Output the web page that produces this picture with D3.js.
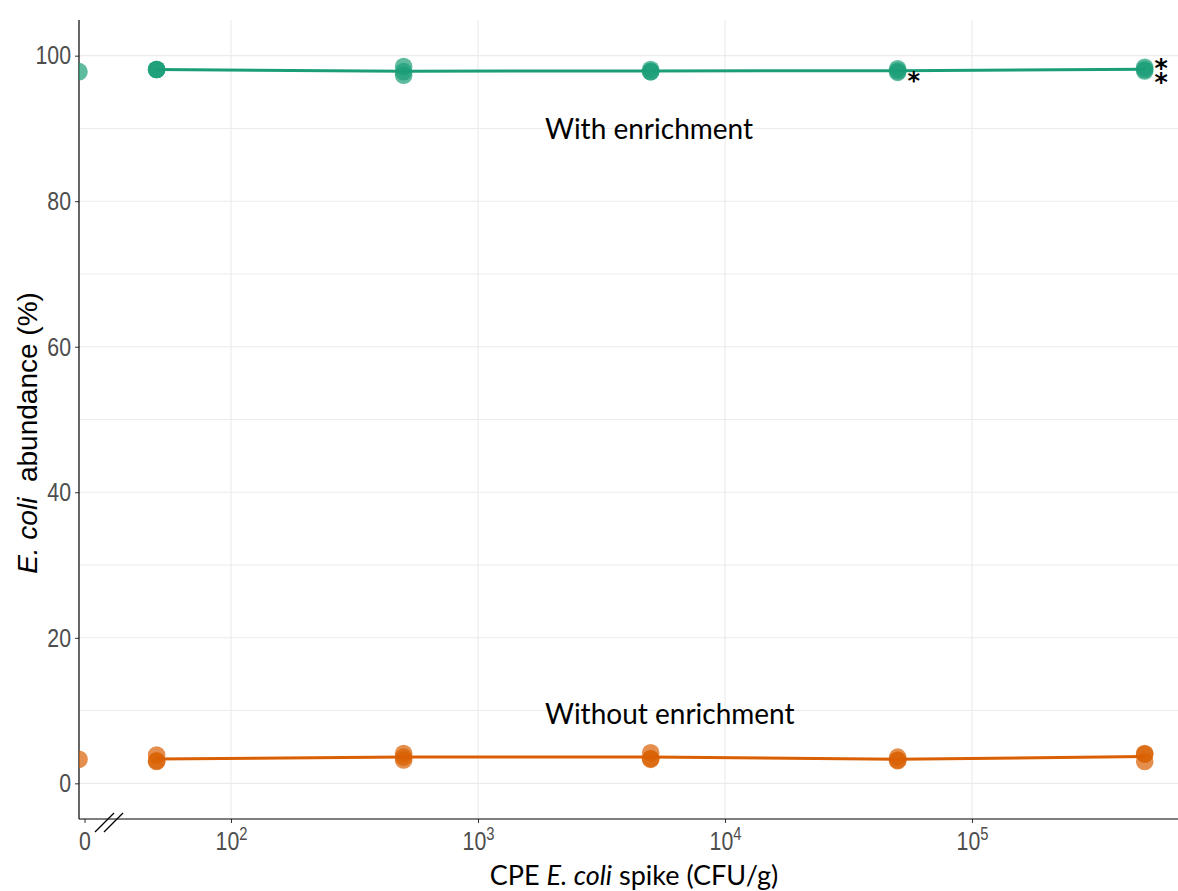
<!DOCTYPE html>
<html>
<head>
<meta charset="utf-8">
<script src="https://cdn.jsdelivr.net/npm/d3@7"></script>
<style>
body { margin: 0; background: #fff; }
svg { display: block; }
</style>
</head>
<body>
<svg id="chart"></svg>
<script>
// spike levels (CFU/g), 0 = unspiked control
var spikes = [0, 50, 500, 5000, 50000, 500000]

// replicate readings per spike level (abundance %)
var withEnrich = [
  [97.8],
  [98.1, 98.1, 98.1],
  [98.5, 97.8, 97.3],
  [98.1, 97.8, 97.8],
  [98.2, 97.7, 97.9],
  [98.4, 98.1, 97.9]
]
var withoutEnrich = [
  [3.3],
  [3.9, 3.1, 3.0],
  [4.1, 3.6, 3.2],
  [4.2, 3.4, 3.3],
  [3.6, 3.1, 3.2],
  [4.1, 4.0, 3.0]
]

var yTicks = [0, 20, 40, 60, 80, 100]
var yMinor = [10, 30, 50, 70, 90]
var xTicks = [100, 1000, 10000, 100000]
var xLabels = ["2", "3", "4", "5"]

var screen = {width: 1178, height: 891}
var margins = {top: 20, right: 0, bottom: 72, left: 79}
var width = screen.width - margins.left - margins.right
var height = screen.height - margins.top - margins.bottom

var green = "#1b9e77", orange = "#d95f02"
var tickFont = "'Liberation Sans', Arial, sans-serif"
var annoFont = "Lato, 'Open Sans', sans-serif"
var squeeze = 0.82   // tick labels in the original are a narrow face

var svg = d3.select("#chart")
  .attr("width", screen.width)
  .attr("height", screen.height)

var g = svg.append("g")
  .attr("transform", "translate(" + margins.left + "," + margins.top + ")")

var xScale = d3.scaleLog()
  .domain([24.25, 682000])
  .range([0, width])
var yScale = d3.scaleLinear()
  .domain([-4.9, 104.9])
  .range([height, 0])

// the unspiked control sits at the left edge
var xPos = function(v) { return v === 0 ? xScale(xScale.domain()[0]) : xScale(v) }

// grid
g.selectAll(".hgrid")
  .data(yTicks.concat(yMinor))
  .enter().append("line")
  .attr("x1", 0).attr("x2", width)
  .attr("y1", function(d) { return yScale(d) })
  .attr("y2", function(d) { return yScale(d) })
  .attr("stroke", "#ebebeb").attr("stroke-width", 1.1)
g.selectAll(".vgrid")
  .data(xTicks)
  .enter().append("line")
  .attr("y1", 0).attr("y2", height)
  .attr("x1", function(d) { return xScale(d) })
  .attr("x2", function(d) { return xScale(d) })
  .attr("stroke", "#ebebeb").attr("stroke-width", 1.1)

// axes
var yAxis = d3.axisLeft(yScale).tickValues(yTicks).tickSize(4).tickPadding(4)
var yG = g.append("g").call(yAxis)
yG.select(".domain").remove()
yG.selectAll("text")
  .attr("x", -8 / squeeze)
  .attr("transform", "scale(" + squeeze + ",1)")
  .attr("font-family", tickFont)
  .attr("font-size", 26).attr("fill", "#4d4d4d")
yG.selectAll("line").attr("stroke", "#333")

var xAxis = d3.axisBottom(xScale).tickValues(xTicks).tickSize(4).tickFormat("")
var xG = g.append("g").attr("transform", "translate(0," + height + ")").call(xAxis)
xG.select(".domain").remove()
xG.selectAll("line").attr("stroke", "#333")
xG.selectAll(".tick").append("text")
  .attr("y", 31)
  .attr("transform", "scale(" + squeeze + ",1)")
  .attr("text-anchor", "middle")
  .attr("font-family", tickFont)
  .attr("font-size", 26).attr("fill", "#4d4d4d")
  .each(function(d, i) {
    var t = d3.select(this)
    t.append("tspan").text("10")
    t.append("tspan").attr("dy", -10).attr("font-size", 18).text(xLabels[i])
  })

// the "0" tick, just right of the axis
var zeroTick = 6
g.append("line").attr("x1", zeroTick).attr("x2", zeroTick)
  .attr("y1", height).attr("y2", height + 4).attr("stroke", "#333")
g.append("g").attr("transform", "translate(" + zeroTick + "," + (height + 31) + ") scale(" + squeeze + ",1)")
  .append("text")
  .attr("text-anchor", "middle")
  .attr("font-family", tickFont)
  .attr("font-size", 26).attr("fill", "#4d4d4d").text("0")

// axis lines
g.append("line").attr("x1", 0).attr("x2", 0).attr("y1", 0).attr("y2", height)
  .attr("stroke", "#000").attr("stroke-width", 1.2)
g.append("line").attr("x1", 0).attr("x2", width).attr("y1", height).attr("y2", height)
  .attr("stroke", "#000").attr("stroke-width", 1.2)

// axis break marks
;[16, 25].forEach(function(dx) {
  g.append("line")
    .attr("x1", dx).attr("y1", height + 13)
    .attr("x2", dx + 19).attr("y2", height - 6)
    .attr("stroke", "#000").attr("stroke-width", 1.3)
})

// clip to the panel
svg.append("defs").append("clipPath").attr("id", "panel")
  .append("rect").attr("x", 0).attr("y", 0).attr("width", width).attr("height", height)
var plot = g.append("g").attr("clip-path", "url(#panel)")

var drawSeries = function(reps, color) {
  var pts = []
  reps.forEach(function(arr, i) {
    arr.forEach(function(v) { pts.push({x: spikes[i], y: v}) })
  })
  var means = reps.map(function(arr, i) { return {x: spikes[i], y: d3.mean(arr)} })
    .filter(function(d) { return d.x > 0 })

  var lineGenerator = d3.line()
    .x(function(d) { return xPos(d.x) })
    .y(function(d) { return yScale(d.y) })
  plot.append("path")
    .datum(means)
    .attr("d", lineGenerator)
    .attr("fill", "none")
    .attr("stroke", color)
    .attr("stroke-width", 3)

  plot.selectAll(null)
    .data(pts)
    .enter().append("circle")
    .attr("cx", function(d) { return xPos(d.x) })
    .attr("cy", function(d) { return yScale(d.y) })
    .attr("r", 8.8)
    .attr("fill", color)
    .attr("fill-opacity", 0.7)
}
drawSeries(withEnrich, green)
drawSeries(withoutEnrich, orange)

// labels inside panel
g.append("text").attr("x", 466).attr("y", 119)
  .attr("font-family", annoFont).attr("font-size", 28).attr("fill", "#000")
  .text("With enrichment")
g.append("text").attr("x", 466).attr("y", 704)
  .attr("font-family", annoFont).attr("font-size", 28).attr("fill", "#000")
  .text("Without enrichment")

// significance asterisks
g.append("text")
  .attr("x", xScale(50000) + 16)
  .attr("y", yScale(97.9) + 18)
  .attr("text-anchor", "middle")
  .attr("font-family", "'DejaVu Sans', sans-serif")
  .attr("font-weight", "bold")
  .attr("font-size", 24).attr("fill", "#000")
  .text("*")
// two stacked asterisks as one glyph
g.append("text")
  .attr("x", xScale(500000) + 17)
  .attr("y", yScale(98.1) + 15)
  .attr("text-anchor", "middle")
  .attr("font-family", "'DejaVu Sans', sans-serif")
  .attr("font-weight", "bold")
  .attr("font-size", 32).attr("fill", "#000")
  .text("\u2051")

// axis titles
svg.append("text")
  .attr("x", 634).attr("y", 885)
  .attr("text-anchor", "middle")
  .attr("font-family", annoFont).attr("font-size", 27).attr("fill", "#000")
  .html("CPE <tspan font-style='italic'>E. coli</tspan> spike (CFU/g)")

svg.append("text")
  .attr("transform", "translate(37,433) rotate(-90)")
  .attr("text-anchor", "middle")
  .attr("font-family", tickFont)
  .attr("font-size", 28).attr("fill", "#000")
  .attr("xml:space", "preserve")
  .html("<tspan font-style='italic'>E. coli</tspan>  abundance (%)")
</script>
</body>
</html>
